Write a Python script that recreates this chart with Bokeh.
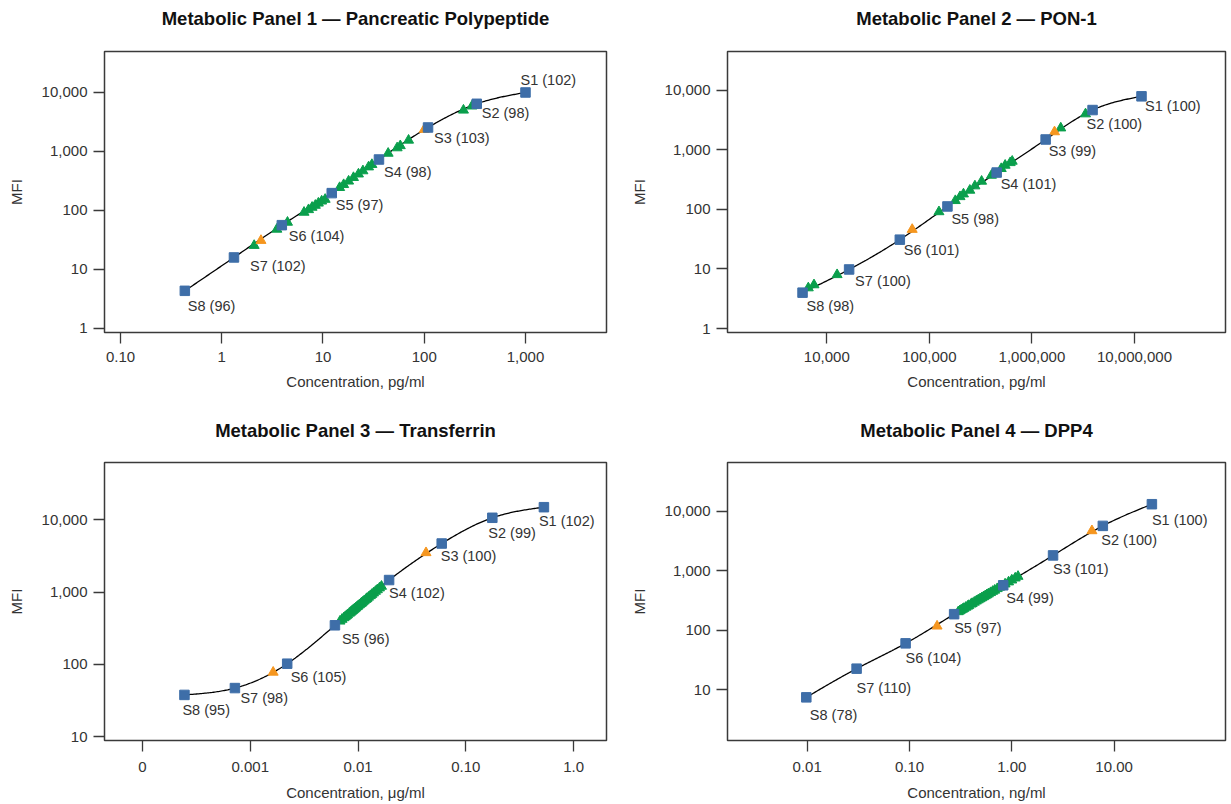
import numpy as np
from bokeh.plotting import figure
from bokeh.layouts import column, row
from bokeh.models import ColumnDataSource, Range1d, FixedTicker, CustomJSTickFormatter, Title
from bokeh.core.properties import value
from bokeh.embed import file_html
from bokeh.resources import INLINE

# ---------------- data ----------------
P1_TITLE = "Metabolic Panel 1 — Pancreatic Polypeptide"
P1_XLABEL = "Concentration, pg/ml"
P1_STD_X = [1000, 330, 109, 35.7, 12.2, 3.92, 1.32, 0.432]
P1_STD_Y = [10000, 6430, 2550, 731, 197, 56.4, 16.0, 4.35]
P1_STD_LABELS = ["S1 (102)", "S2 (98)", "S3 (103)", "S4 (98)", "S5 (97)", "S6 (104)", "S7 (102)", "S8 (96)"]
P1_CTRL_X = [2.44, 100]
P1_CTRL_Y = [31, 2360]
P1_SMP_X = [2.09, 3.50, 4.46, 6.5, 7.2, 7.8, 8.4, 9.0, 9.7, 10.5, 14.6, 16.0, 17.9, 20.0,
            22.4, 24.8, 28.2, 30.4, 44, 54, 58, 70, 244, 296]
P1_SMP_Y = [25.5, 48, 63, 93, 103, 113, 122, 133, 144, 154, 244, 274, 314, 361,
            414, 469, 546, 600, 930, 1150, 1250, 1550, 5010, 5880]
P1_XTICKS = [0.1, 1, 10, 100, 1000]
P1_XTICK_LABELS = ["0.10", "1", "10", "100", "1,000"]
P1_YTICKS = [1, 10, 100, 1000, 10000]
P1_YTICK_LABELS = ["1", "10", "100", "1,000", "10,000"]

P2_TITLE = "Metabolic Panel 2 — PON-1"
P2_XLABEL = "Concentration, pg/ml"
P2_STD_X = [11.7e6, 3.9e6, 1.36e6, 453000, 150000, 51500, 16500, 5800]
P2_STD_Y = [7900, 4650, 1490, 415, 112, 31, 9.8, 4.0]
P2_STD_LABELS = ["S1 (100)", "S2 (100)", "S3 (99)", "S4 (101)", "S5 (98)", "S6 (101)", "S7 (100)", "S8 (98)"]
P2_CTRL_X = [68000, 1.66e6]
P2_CTRL_Y = [46, 2000]
P2_SMP_X = [6600, 7500, 12600, 124000, 179000, 199000, 215000, 248000, 278000, 323000,
            403000, 502000, 548000, 614000, 642000, 1.91e6, 3.33e6]
P2_SMP_Y = [4.8, 5.4, 8.0, 91, 140, 163, 181, 209, 247, 296,
            373, 483, 549, 607, 641, 2320, 4000]
P2_XTICKS = [1e4, 1e5, 1e6, 1e7]
P2_XTICK_LABELS = ["10,000", "100,000", "1,000,000", "10,000,000"]
P2_YTICKS = [1, 10, 100, 1000, 10000]
P2_YTICK_LABELS = ["1", "10", "100", "1,000", "10,000"]

P3_TITLE = "Metabolic Panel 3 — Transferrin"
P3_XLABEL = "Concentration, μg/ml"
P3_STD_X = [0.53, 0.176, 0.0597, 0.0194, 0.0061, 0.0022, 0.00072, 0.000245]
P3_STD_Y = [15000, 10700, 4710, 1470, 347, 102, 46.9, 37.7]
P3_STD_LABELS = ["S1 (102)", "S2 (99)", "S3 (100)", "S4 (102)", "S5 (96)", "S6 (105)", "S7 (98)", "S8 (95)"]
P3_CTRL_X = [0.0427, 0.00163]
P3_CTRL_Y = [3510, 77.6]
P3_SMP_X = [0.0068, 0.0071, 0.0074, 0.0076, 0.0078, 0.0080, 0.0083, 0.0085, 0.0087, 0.0089,
            0.0091, 0.0093, 0.0095, 0.0098, 0.0100, 0.0103, 0.0106, 0.0108, 0.0111, 0.0114,
            0.0118, 0.0121, 0.0125, 0.0130, 0.0134, 0.0139, 0.0145, 0.0151, 0.0158, 0.0165]
P3_SMP_Y = [396, 419, 441, 456, 471, 486, 509, 524, 540, 555,
            571, 587, 602, 626, 642, 667, 691, 707, 731, 757,
            790, 815, 849, 891, 927, 970, 1023, 1076, 1138, 1202]
P3_XTICKS = [1e-4, 1e-3, 1e-2, 0.1, 1]
P3_XTICK_LABELS = ["0", "0.001", "0.01", "0.10", "1.0"]
P3_YTICKS = [10, 100, 1000, 10000]
P3_YTICK_LABELS = ["10", "100", "1,000", "10,000"]

P4_TITLE = "Metabolic Panel 4 — DPP4"
P4_XLABEL = "Concentration, ng/ml"
P4_STD_X = [23.4, 7.76, 2.53, 0.824, 0.273, 0.0916, 0.0304, 0.0098]
P4_STD_Y = [13200, 5700, 1815, 570, 186, 60, 22.5, 7.4]
P4_STD_LABELS = ["S1 (100)", "S2 (100)", "S3 (101)", "S4 (99)", "S5 (97)", "S6 (104)", "S7 (110)", "S8 (78)"]
P4_CTRL_X = [0.186, 6.07]
P4_CTRL_Y = [117, 4710]
P4_SMP_X = [0.30, 0.31, 0.32, 0.33, 0.34, 0.355, 0.37, 0.38, 0.40, 0.41,
            0.43, 0.45, 0.47, 0.49, 0.51, 0.53, 0.55, 0.57, 0.59, 0.62,
            0.65, 0.68, 0.72, 0.76, 0.80, 0.86, 0.93, 1.00, 1.08, 1.15]
P4_SMP_Y = [204, 211, 218, 225, 232, 242, 253, 260, 274, 281,
            295, 309, 323, 337, 351, 365, 379, 393, 407, 428,
            449, 470, 499, 527, 555, 598, 647, 697, 754, 804]
P4_XTICKS = [0.01, 0.1, 1, 10]
P4_XTICK_LABELS = ["0.01", "0.10", "1.00", "10.00"]
P4_YTICKS = [10, 100, 1000, 10000]
P4_YTICK_LABELS = ["10", "100", "1,000", "10,000"]

# ---------------- style / layout ----------------
FONT = "Liberation Sans"
TXT = "#333333"
BLUE = "#3E6EA8"
GREEN = "#0A9F4C"
ORANGE = "#F5961F"
FRAME = "#3a3a3a"


def spline_curve(xs, ys, n=300):
    """Natural cubic spline through the standards in log-log space."""
    lx = np.log10(np.asarray(xs, float))
    ly = np.log10(np.asarray(ys, float))
    o = np.argsort(lx)
    lx, ly = lx[o], ly[o]
    k = len(lx)
    h = np.diff(lx)
    A = np.zeros((k, k))
    r = np.zeros(k)
    A[0, 0] = 1
    A[-1, -1] = 1
    for i in range(1, k - 1):
        A[i, i - 1] = h[i - 1]
        A[i, i] = 2 * (h[i - 1] + h[i])
        A[i, i + 1] = h[i]
        r[i] = 6 * ((ly[i + 1] - ly[i]) / h[i] - (ly[i] - ly[i - 1]) / h[i - 1])
    M = np.linalg.solve(A, r)
    t = np.linspace(lx[0], lx[-1], n)
    j = np.clip(np.searchsorted(lx, t) - 1, 0, k - 2)
    hj = h[j]
    a = (lx[j + 1] - t) / hj
    b = (t - lx[j]) / hj
    yt = a * ly[j] + b * ly[j + 1] + ((a ** 3 - a) * M[j] + (b ** 3 - b) * M[j + 1]) * hj ** 2 / 6
    return 10 ** t, 10 ** yt


def tick_formatter(tick_vals, tick_labels):
    return CustomJSTickFormatter(args=dict(tv=list(tick_vals), tl=list(tick_labels)), code="""
        for (let i = 0; i < tv.length; i++) {
            if (Math.abs(Math.log10(tv[i]) - Math.log10(tick)) < 1e-6) return tl[i];
        }
        return "";
    """)


def make_panel(title, xlabel, std_x, std_y, std_labels, ctrl_x, ctrl_y, smp_x, smp_y,
               xticks, xtick_labels, yticks, ytick_labels, cfg):
    p = figure(width=cfg["w"], height=cfg["h"],
               x_axis_type="log", y_axis_type="log",
               x_range=Range1d(*cfg["xr"]), y_range=Range1d(*cfg["yr"]),
               output_backend="svg", toolbar_location=None,
               min_border_left=cfg["bl"], min_border_right=cfg["br"],
               min_border_top=cfg["bt"], min_border_bottom=cfg["bb"],
               title=title)
    p.background_fill_color = "white"
    p.border_fill_color = "white"
    p.outline_line_color = FRAME
    p.outline_line_width = 1.5
    p.grid.visible = False

    p.title.text_font = FONT
    p.title.text_font_size = "18.5px"
    p.title.text_font_style = "bold"
    p.title.text_color = "#111111"
    p.title.align = "center"
    p.title.standoff = 0
    # blank spacer between title and frame
    p.add_layout(Title(text=" ", text_font_size="10px", standoff=cfg["title_gap"]), "above")

    for ax in (p.xaxis[0], p.yaxis[0]):
        ax.axis_line_color = None
        ax.major_tick_in = 0
        ax.major_tick_out = 11
        ax.major_tick_line_color = FRAME
        ax.major_tick_line_width = 1.3
        ax.minor_tick_line_color = None
        ax.major_label_text_font = FONT
        ax.major_label_text_font_size = "15px"
        ax.major_label_text_color = TXT
        ax.axis_label_text_font = FONT
        ax.axis_label_text_font_size = "15px"
        ax.axis_label_text_font_style = "normal"
        ax.axis_label_text_color = TXT

    p.xaxis.ticker = FixedTicker(ticks=xticks)
    p.xaxis.formatter = tick_formatter(xticks, xtick_labels)
    p.xaxis.axis_label = xlabel
    p.xaxis.major_label_standoff = cfg["x_std"]
    p.xaxis.axis_label_standoff = cfg["x_lab_std"]

    p.yaxis.ticker = FixedTicker(ticks=yticks)
    p.yaxis.formatter = tick_formatter(yticks, ytick_labels)
    p.yaxis.axis_label = "MFI"
    p.yaxis.major_label_standoff = 6
    p.yaxis.axis_label_standoff = 14

    cx, cy = spline_curve(std_x, std_y)
    p.line(cx, cy, line_color="black", line_width=1.3)

    p.scatter(smp_x, smp_y, marker="triangle", size=10, fill_color=GREEN, line_color=GREEN)
    p.scatter(ctrl_x, ctrl_y, marker="triangle", size=10, fill_color=ORANGE, line_color=ORANGE)
    p.scatter(std_x, std_y, marker="square", size=9.5, fill_color=BLUE, line_color=BLUE)

    offs = cfg["label_offsets"]
    src = ColumnDataSource(dict(x=std_x, y=std_y, t=std_labels,
                                dx=[o[0] for o in offs], dy=[o[1] for o in offs]))
    p.text(x="x", y="y", text="t", x_offset="dx", y_offset="dy", source=src,
           text_font=value(FONT), text_font_size=value("14.5px"), text_color=TXT,
           text_align="left", text_baseline="middle")
    return p


CFG1 = dict(w=615, h=400, bl=104, br=9, bt=51, bb=68, title_gap=10, x_std=8, x_lab_std=8,
            xr=(0.0695, 6310), yr=(0.855, 49500),
            label_offsets=[(-5, -12), (5, 9), (6, 11), (5, 12), (4, 12), (7, 11), (16, 9), (3, 15)])
CFG2 = dict(w=615, h=400, bl=112, br=5, bt=51, bb=68, title_gap=10, x_std=8, x_lab_std=8,
            xr=(1076, 7.71e7), yr=(0.857, 44700),
            label_offsets=[(3.5, 10), (-6, 14), (3, 12), (4, 11), (4, 13), (4, 10), (6, 12), (4, 13)])
CFG3 = dict(w=615, h=403, bl=104, br=9, bt=62, bb=59, title_gap=9, x_std=10, x_lab_std=9,
            xr=(4.44e-5, 2.018), yr=(8.81, 62400),
            label_offsets=[(-5, 14), (-4, 15), (-1, 12), (0, 13), (7, 14), (3.5, 13), (5.5, 10), (-2, 15)])
CFG4 = dict(w=615, h=403, bl=112, br=5, bt=62, bb=59, title_gap=9, x_std=10, x_lab_std=9,
            xr=(0.001663, 122.7), yr=(1.39, 66500),
            label_offsets=[(0, 16), (-1.5, 14), (0, 14), (3, 13), (0, 14), (0, 15), (0, 19), (3.5, 18)])

p1 = make_panel(P1_TITLE, P1_XLABEL, P1_STD_X, P1_STD_Y, P1_STD_LABELS, P1_CTRL_X, P1_CTRL_Y,
                P1_SMP_X, P1_SMP_Y, P1_XTICKS, P1_XTICK_LABELS, P1_YTICKS, P1_YTICK_LABELS, CFG1)
p2 = make_panel(P2_TITLE, P2_XLABEL, P2_STD_X, P2_STD_Y, P2_STD_LABELS, P2_CTRL_X, P2_CTRL_Y,
                P2_SMP_X, P2_SMP_Y, P2_XTICKS, P2_XTICK_LABELS, P2_YTICKS, P2_YTICK_LABELS, CFG2)
p3 = make_panel(P3_TITLE, P3_XLABEL, P3_STD_X, P3_STD_Y, P3_STD_LABELS, P3_CTRL_X, P3_CTRL_Y,
                P3_SMP_X, P3_SMP_Y, P3_XTICKS, P3_XTICK_LABELS, P3_YTICKS, P3_YTICK_LABELS, CFG3)
p4 = make_panel(P4_TITLE, P4_XLABEL, P4_STD_X, P4_STD_Y, P4_STD_LABELS, P4_CTRL_X, P4_CTRL_Y,
                P4_SMP_X, P4_SMP_Y, P4_XTICKS, P4_XTICK_LABELS, P4_YTICKS, P4_YTICK_LABELS, CFG4)

layout = column(row(p1, p2), row(p3, p4))

with open("out.html", "w") as f:
    f.write(file_html(layout, INLINE))
